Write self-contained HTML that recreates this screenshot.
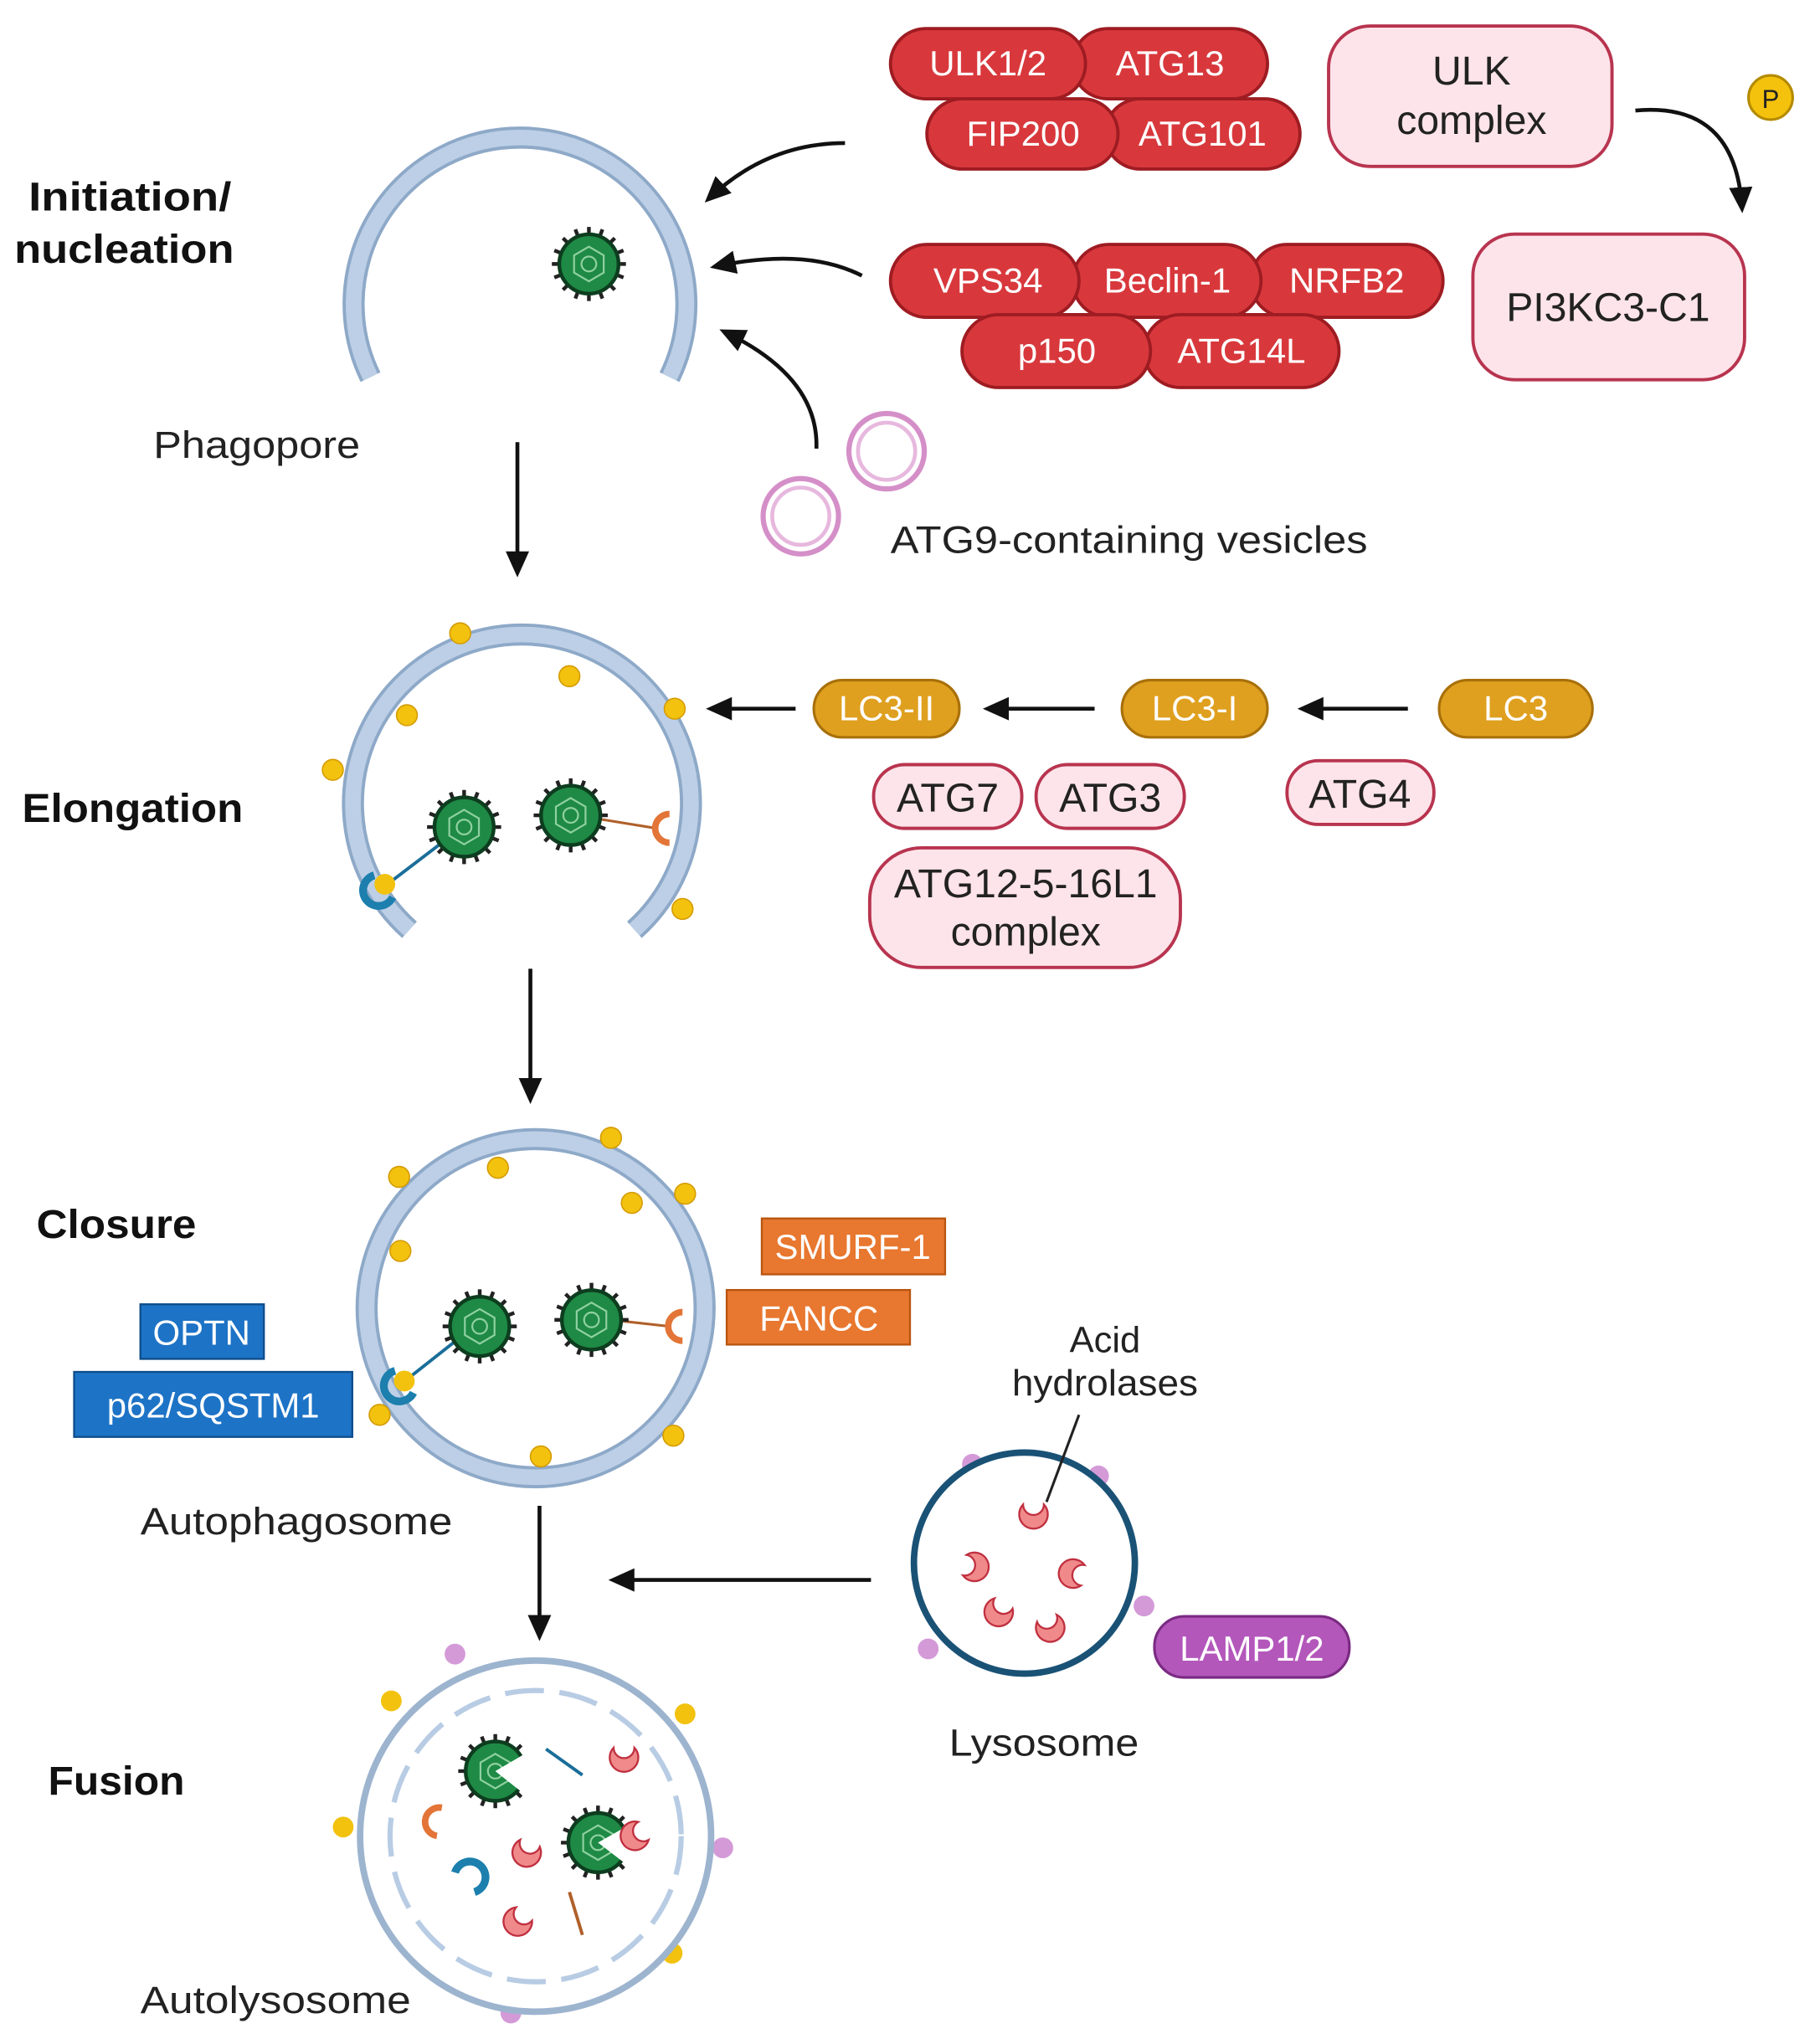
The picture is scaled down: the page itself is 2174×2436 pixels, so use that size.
<!DOCTYPE html>
<html><head><meta charset="utf-8"><style>
html,body{margin:0;padding:0;background:#fff}
svg{display:block}
text{font-family:"Liberation Sans",sans-serif}
</style></head><body>
<svg width="2174" height="2436" viewBox="0 0 1400 1568" preserveAspectRatio="none" xmlns="http://www.w3.org/2000/svg">
<defs>
<marker id="ah2" markerWidth="22" markerHeight="22" refX="16" refY="11" orient="auto" markerUnits="userSpaceOnUse"><path d="M0,2 L20,11 L0,20 z" fill="#111"/></marker>
<g id="virus">
<g stroke="#222" stroke-width="3">
<line x1="0" y1="-30" x2="0" y2="30"/><line x1="-30" y1="0" x2="30" y2="0"/>
<line x1="-21" y1="-21" x2="21" y2="21"/><line x1="-21" y1="21" x2="21" y2="-21"/>
<line x1="-11" y1="-28" x2="11" y2="28"/><line x1="-28" y1="-11" x2="28" y2="11"/>
<line x1="-11" y1="28" x2="11" y2="-28"/><line x1="-28" y1="11" x2="28" y2="-11"/>
</g>
<circle r="24" fill="#1e8a45" stroke="#0d3d1f" stroke-width="3"/>
<polygon points="0,-14 12,-7 12,7 0,14 -12,7 -12,-7" fill="none" stroke="#8fd0a0" stroke-width="1.5"/>
<circle r="6" fill="none" stroke="#8fd0a0" stroke-width="1.5"/>
</g>
<g id="cres"><path d="M-8,-8 A11,11 0 1 0 8,-8 A7,7 0 1 1 -8,-8 z" fill="#f08a8a" stroke="#c03040" stroke-width="1.5"/></g>
</defs>

<!-- titles -->
<g font-weight="bold" font-size="31" fill="#111">
<text x="22" y="162" textLength="156" lengthAdjust="spacingAndGlyphs">Initiation/</text>
<text x="11" y="202" textLength="169" lengthAdjust="spacingAndGlyphs">nucleation</text>
<text x="17" y="632" textLength="170" lengthAdjust="spacingAndGlyphs">Elongation</text>
<text x="28" y="952" textLength="123" lengthAdjust="spacingAndGlyphs">Closure</text>
<text x="37" y="1380" textLength="105" lengthAdjust="spacingAndGlyphs">Fusion</text>
</g>

<!-- phagopore -->
<path d="M285,290 A128,128 0 1 1 515,290" fill="none" stroke="#8ea9c8" stroke-width="17" stroke-linecap="butt"/>
<path d="M285,290 A128,128 0 1 1 515,290" fill="none" stroke="#bccfe6" stroke-width="12"/>
<use href="#virus" transform="translate(453,203) scale(0.95)"/>
<text x="118" y="352" font-size="29" fill="#222" textLength="159" lengthAdjust="spacingAndGlyphs">Phagopore</text>
<line x1="398" y1="340" x2="398" y2="440" stroke="#111" stroke-width="3" marker-end="url(#ah2)"/>

<!-- red complexes -->
<g stroke="#9e1c22" stroke-width="2.5" fill="#d8383c">
<rect x="825" y="22" width="150" height="54" rx="27"/>
<rect x="685" y="22" width="150" height="54" rx="27"/>
<rect x="850" y="76" width="150" height="54" rx="27"/>
<rect x="713" y="76" width="147" height="54" rx="27"/>
<rect x="962" y="188" width="148" height="56" rx="28"/>
<rect x="825" y="188" width="145" height="56" rx="28"/>
<rect x="685" y="188" width="145" height="56" rx="28"/>
<rect x="880" y="242" width="150" height="56" rx="28"/>
<rect x="740" y="242" width="145" height="56" rx="28"/>
</g>
<g fill="#fff" font-size="27" text-anchor="middle">
<text x="760" y="58">ULK1/2</text><text x="900" y="58">ATG13</text>
<text x="787" y="112">FIP200</text><text x="925" y="112">ATG101</text>
<text x="760" y="225">VPS34</text><text x="898" y="225">Beclin-1</text><text x="1036" y="225">NRFB2</text>
<text x="813" y="279">p150</text><text x="955" y="279">ATG14L</text>
</g>

<!-- pink boxes -->
<g fill="#fde4ea" stroke="#b8344f" stroke-width="2.5">
<rect x="1022" y="20" width="218" height="108" rx="32"/>
<rect x="1133" y="180" width="209" height="112" rx="32"/>
<rect x="672" y="588" width="114" height="49" rx="24"/>
<rect x="797" y="588" width="114" height="49" rx="24"/>
<rect x="990" y="585" width="113" height="49" rx="24"/>
<rect x="669" y="652" width="239" height="92" rx="40"/>
</g>
<g fill="#222" font-size="31" text-anchor="middle">
<text x="1132" y="65">ULK</text><text x="1132" y="103">complex</text>
<text x="1237" y="247">PI3KC3-C1</text>
<text x="729" y="624">ATG7</text><text x="854" y="624">ATG3</text><text x="1046" y="621">ATG4</text>
<text x="789" y="690">ATG12-5-16L1</text><text x="789" y="727">complex</text>
</g>
<path d="M1258,85 Q1335,78 1340,160" fill="none" stroke="#111" stroke-width="3" marker-end="url(#ah2)"/>
<circle cx="1362" cy="75" r="17" fill="#f4c20d" stroke="#b48a00" stroke-width="2"/>
<text x="1362" y="83" font-size="20" text-anchor="middle" fill="#222">P</text>

<!-- curved arrows to phagopore -->
<path d="M650,110 Q590,110 545,153" fill="none" stroke="#111" stroke-width="3" marker-end="url(#ah2)"/>
<path d="M663,212 Q620,190 550,205" fill="none" stroke="#111" stroke-width="3" marker-end="url(#ah2)"/>
<path d="M628,345 Q630,290 557,255" fill="none" stroke="#111" stroke-width="3" marker-end="url(#ah2)"/>

<!-- vesicles -->
<circle cx="682" cy="347" r="29" fill="none" stroke="#d58fc8" stroke-width="4"/>
<circle cx="682" cy="347" r="22" fill="none" stroke="#e7b8de" stroke-width="3"/>
<circle cx="616" cy="397" r="29" fill="none" stroke="#d58fc8" stroke-width="4"/>
<circle cx="616" cy="397" r="22" fill="none" stroke="#e7b8de" stroke-width="3"/>
<text x="685" y="425" font-size="29" fill="#222" textLength="367" lengthAdjust="spacingAndGlyphs">ATG9-containing vesicles</text>

<!-- elongation -->
<path d="M315,715 A130,130 0 1 1 488,715" fill="none" stroke="#8ea9c8" stroke-width="17"/>
<path d="M315,715 A130,130 0 1 1 488,715" fill="none" stroke="#bccfe6" stroke-width="12"/>
<g fill="#f2c20f" stroke="#d49a00" stroke-width="1">
<circle cx="354" cy="487" r="8"/><circle cx="438" cy="520" r="8"/><circle cx="313" cy="550" r="8"/><circle cx="519" cy="545" r="8"/><circle cx="256" cy="592" r="8"/><circle cx="525" cy="699" r="8"/>
</g>
<line x1="298" y1="680" x2="340" y2="648" stroke="#1a6e99" stroke-width="2.5"/>
<path d="M302,668 A12,12 0 1 1 302,690" fill="none" stroke="#1c7fae" stroke-width="6" transform="rotate(140 298 679)"/>
<circle cx="296" cy="680" r="8" fill="#f2c20f"/>
<line x1="462" y1="630" x2="505" y2="637" stroke="#b0602a" stroke-width="2"/>
<path d="M515,626 A11,11 0 1 0 515,648" fill="none" stroke="#e27537" stroke-width="5"/>
<use href="#virus" transform="translate(357,636) scale(0.95)"/>
<use href="#virus" transform="translate(439,627) scale(0.95)"/>
<line x1="408" y1="745" x2="408" y2="845" stroke="#111" stroke-width="3" marker-end="url(#ah2)"/>

<!-- LC3 -->
<g fill="#dfa01f" stroke="#a8700a" stroke-width="2">
<rect x="626" y="523" width="112" height="44" rx="22"/>
<rect x="863" y="523" width="112" height="44" rx="22"/>
<rect x="1107" y="523" width="118" height="44" rx="22"/>
</g>
<g fill="#fff" font-size="27" text-anchor="middle">
<text x="682" y="554">LC3-II</text><text x="919" y="554">LC3-I</text><text x="1166" y="554">LC3</text>
</g>
<line x1="612" y1="545" x2="547" y2="545" stroke="#111" stroke-width="3" marker-end="url(#ah2)"/>
<line x1="842" y1="545" x2="760" y2="545" stroke="#111" stroke-width="3" marker-end="url(#ah2)"/>
<line x1="1083" y1="545" x2="1002" y2="545" stroke="#111" stroke-width="3" marker-end="url(#ah2)"/>

<!-- closure -->
<circle cx="412" cy="1006" r="130" fill="none" stroke="#8ea9c8" stroke-width="17"/>
<circle cx="412" cy="1006" r="130" fill="none" stroke="#bccfe6" stroke-width="12"/>
<g fill="#f2c20f" stroke="#d49a00" stroke-width="1">
<circle cx="470" cy="875" r="8"/><circle cx="307" cy="905" r="8"/><circle cx="383" cy="898" r="8"/><circle cx="486" cy="925" r="8"/><circle cx="527" cy="918" r="8"/><circle cx="308" cy="962" r="8"/><circle cx="292" cy="1088" r="8"/><circle cx="416" cy="1120" r="8"/><circle cx="518" cy="1104" r="8"/>
</g>
<line x1="314" y1="1060" x2="352" y2="1030" stroke="#1a6e99" stroke-width="2.5"/>
<path d="M318,1049 A12,12 0 1 1 318,1071" fill="none" stroke="#1c7fae" stroke-width="6" transform="rotate(140 314 1060)"/>
<circle cx="311" cy="1062" r="8" fill="#f2c20f"/>
<line x1="470" y1="1015" x2="515" y2="1020" stroke="#b0602a" stroke-width="2"/>
<path d="M525,1009 A11,11 0 1 0 525,1031" fill="none" stroke="#e27537" stroke-width="5"/>
<use href="#virus" transform="translate(369,1020) scale(0.95)"/>
<use href="#virus" transform="translate(455,1015) scale(0.95)"/>
<g fill="#e8772f" stroke="#b85510" stroke-width="1.5">
<rect x="586" y="937" width="141" height="43"/><rect x="559" y="992" width="141" height="42"/>
</g>
<g fill="#1d73c6" stroke="#0f4d8a" stroke-width="1.5">
<rect x="108" y="1003" width="95" height="42"/><rect x="57" y="1055" width="214" height="50"/>
</g>
<g fill="#fff" font-size="27" text-anchor="middle">
<text x="656" y="968">SMURF-1</text><text x="630" y="1023">FANCC</text>
<text x="155" y="1034">OPTN</text><text x="164" y="1090">p62/SQSTM1</text>
</g>
<text x="108" y="1180" font-size="29" fill="#222" textLength="240" lengthAdjust="spacingAndGlyphs">Autophagosome</text>
<line x1="415" y1="1158" x2="415" y2="1258" stroke="#111" stroke-width="3" marker-end="url(#ah2)"/>

<!-- lysosome -->
<g fill="#d49ad8"><circle cx="748" cy="1126" r="8"/><circle cx="845" cy="1135" r="8"/><circle cx="880" cy="1235" r="8"/><circle cx="714" cy="1268" r="8"/></g>
<circle cx="788" cy="1202" r="85" fill="#fff" stroke="#1a5276" stroke-width="5"/>
<use href="#cres" transform="translate(795,1165)"/>
<use href="#cres" transform="translate(750,1205) rotate(-80)"/>
<use href="#cres" transform="translate(825,1210) rotate(100)"/>
<use href="#cres" transform="translate(768,1240) rotate(30)"/>
<use href="#cres" transform="translate(808,1252) rotate(-20)"/>
<text x="850" y="1040" font-size="28" fill="#222" text-anchor="middle">Acid</text>
<text x="850" y="1073" font-size="28" fill="#222" text-anchor="middle" textLength="143" lengthAdjust="spacingAndGlyphs">hydrolases</text>
<line x1="830" y1="1088" x2="805" y2="1155" stroke="#222" stroke-width="2"/>
<line x1="670" y1="1215" x2="472" y2="1215" stroke="#111" stroke-width="3" marker-end="url(#ah2)"/>
<rect x="888" y="1243" width="150" height="47" rx="23" fill="#b357bb" stroke="#7a2a82" stroke-width="2"/>
<text x="963" y="1277" font-size="27" fill="#fff" text-anchor="middle">LAMP1/2</text>
<text x="730" y="1350" font-size="29" fill="#222" textLength="146" lengthAdjust="spacingAndGlyphs">Lysosome</text>

<!-- autolysosome -->
<g fill="#d49ad8"><circle cx="350" cy="1272" r="8"/><circle cx="556" cy="1421" r="8"/><circle cx="393" cy="1548" r="8"/></g>
<g fill="#f2c20f"><circle cx="301" cy="1308" r="8"/><circle cx="527" cy="1318" r="8"/><circle cx="264" cy="1405" r="8"/><circle cx="517" cy="1502" r="8"/></g>
<circle cx="412" cy="1412" r="135" fill="#fff" stroke="#9db4cf" stroke-width="5"/>
<circle cx="412" cy="1412" r="112" fill="none" stroke="#b8cce4" stroke-width="4" stroke-dasharray="30 12"/>
<g>
<use href="#virus" transform="translate(381,1362) scale(0.95)"/>
<path d="M381,1362 L410,1345 L410,1385 z" fill="#fff"/>
<use href="#virus" transform="translate(460,1417) scale(0.95)"/>
<path d="M460,1417 L490,1400 L490,1440 z" fill="#fff"/>
</g>
<line x1="420" y1="1345" x2="448" y2="1365" stroke="#1a6e99" stroke-width="2.5"/>
<line x1="438" y1="1455" x2="448" y2="1488" stroke="#b0602a" stroke-width="2.5"/>
<path d="M338,1390 A11,11 0 1 0 338,1412" fill="none" stroke="#e27537" stroke-width="5" transform="rotate(10 338 1401)"/>
<path d="M350,1440 A12,12 0 1 1 365,1455" fill="none" stroke="#1c7fae" stroke-width="6"/>
<use href="#cres" transform="translate(480,1352)"/>
<use href="#cres" transform="translate(405,1425) rotate(20)"/>
<use href="#cres" transform="translate(488,1412) rotate(60)"/>
<use href="#cres" transform="translate(398,1478) rotate(40)"/>
<text x="108" y="1548" font-size="29" fill="#222" textLength="208" lengthAdjust="spacingAndGlyphs">Autolysosome</text>
</svg>
</body></html>
